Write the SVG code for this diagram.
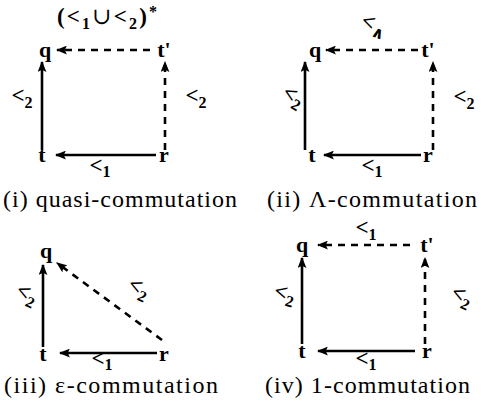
<svg xmlns="http://www.w3.org/2000/svg" width="481" height="409" viewBox="0 0 481 409" font-family="'Liberation Serif', 'DejaVu Serif', serif">
<style>
text{font-family:'Liberation Serif','DejaVu Serif',serif;fill:#000;}
.n{font-size:22px;font-weight:bold;text-anchor:middle;}
.l{font-size:23px;font-weight:bold;text-anchor:middle;}
.s{font-size:16px;}
.c{font-size:24px;}
.solid{stroke:#000;stroke-width:2.6;fill:none;}
.dash{stroke:#000;stroke-width:2.6;fill:none;stroke-dasharray:7 6;}
</style>
<defs>
<marker id="ah" viewBox="0 0 10 8" refX="9" refY="4" markerWidth="11" markerHeight="9" markerUnits="userSpaceOnUse" orient="auto">
<path d="M0,0 L10,4 L0,8 L2,4 Z" fill="#000"/>
</marker>
</defs>
<g id="connectors">
<line class="dash" x1="150" y1="50" x2="57" y2="50" marker-end="url(#ah)"/>
<line class="solid" x1="42" y1="150" x2="42" y2="62" marker-end="url(#ah)"/>
<line class="dash" x1="165" y1="150" x2="165" y2="62" marker-end="url(#ah)"/>
<line class="solid" x1="156" y1="155" x2="56" y2="155" marker-end="url(#ah)"/>
<line class="dash" x1="418" y1="50" x2="326" y2="50" marker-end="url(#ah)"/>
<line class="solid" x1="305" y1="150" x2="305" y2="62" marker-end="url(#ah)"/>
<line class="dash" x1="433" y1="150" x2="433" y2="62" marker-end="url(#ah)"/>
<line class="solid" x1="421" y1="155" x2="324" y2="155" marker-end="url(#ah)"/>
<line class="solid" x1="43" y1="347" x2="43" y2="265" marker-end="url(#ah)"/>
<line class="dash" x1="162" y1="340" x2="57" y2="263" marker-end="url(#ah)"/>
<line class="solid" x1="157" y1="353" x2="60" y2="353" marker-end="url(#ah)"/>
<line class="dash" x1="410" y1="245" x2="318" y2="245" marker-end="url(#ah)"/>
<line class="solid" x1="302" y1="344" x2="302" y2="258" marker-end="url(#ah)"/>
<line class="dash" x1="425" y1="344" x2="425" y2="258" marker-end="url(#ah)"/>
<line class="solid" x1="415" y1="351" x2="318" y2="351" marker-end="url(#ah)"/>
</g>
<g id="panel-i">
<text class="n" x="45" y="57">q</text>
<text class="n" x="164" y="57">t'</text>
<text class="n" x="42" y="162">t</text>
<text class="n" x="164" y="162">r</text>
<text class="l" x="107" y="24" textLength="100">(&lt;<tspan class="s" dy="5">1</tspan><tspan dy="-5" font-weight="normal">∪</tspan><tspan>&lt;</tspan><tspan class="s" dy="5">2</tspan><tspan dy="-5">)</tspan><tspan class="s" dy="-7">*</tspan></text>
<text class="l" x="22" y="103">&lt;<tspan class="s" dy="5">2</tspan></text>
<text class="l" x="196" y="103">&lt;<tspan class="s" dy="5">2</tspan></text>
<text class="l" x="100" y="173">&lt;<tspan class="s" dy="4">1</tspan></text>
<text class="c" x="3" y="207" textLength="234">(i) quasi-commutation</text>
</g>
<g id="panel-ii">
<text class="n" x="315" y="57">q</text>
<text class="n" x="428" y="57">t'</text>
<text class="n" x="312" y="162">t</text>
<text class="n" x="428" y="162">r</text>
<text class="l" transform="translate(372,31) rotate(20)">&lt;<tspan class="s" dy="5">∧</tspan></text>
<text class="l" transform="translate(290,102) rotate(30)">&lt;<tspan class="s" dy="5">2</tspan></text>
<text class="l" x="464" y="104">&lt;<tspan class="s" dy="5">2</tspan></text>
<text class="l" x="372" y="173">&lt;<tspan class="s" dy="4">1</tspan></text>
<text class="c" x="267" y="207" textLength="210">(ii) Λ-commutation</text>
</g>
<g id="panel-iii">
<text class="n" x="46" y="258">q</text>
<text class="n" x="43" y="361">t</text>
<text class="n" x="164" y="361">r</text>
<text class="l" transform="translate(24,300) rotate(25)">&lt;<tspan class="s" dy="5">2</tspan></text>
<text class="l" transform="translate(136,294) rotate(25)">&lt;<tspan class="s" dy="5">2</tspan></text>
<text class="l" x="102" y="366">&lt;<tspan class="s" dy="4">1</tspan></text>
<text class="c" x="4" y="393" textLength="214">(iii) ε-commutation</text>
</g>
<g id="panel-iv">
<text class="n" x="302" y="252">q</text>
<text class="n" x="427" y="252">t'</text>
<text class="n" x="302" y="358">t</text>
<text class="n" x="427" y="358">r</text>
<text class="l" x="366" y="235">&lt;<tspan class="s" dy="5">1</tspan></text>
<text class="l" transform="translate(283,300) rotate(15)">&lt;<tspan class="s" dy="5">2</tspan></text>
<text class="l" transform="translate(459,302) rotate(25)">&lt;<tspan class="s" dy="5">2</tspan></text>
<text class="l" x="366" y="366">&lt;<tspan class="s" dy="4">1</tspan></text>
<text class="c" x="265" y="393" textLength="205">(iv) 1-commutation</text>
</g>
</svg>
